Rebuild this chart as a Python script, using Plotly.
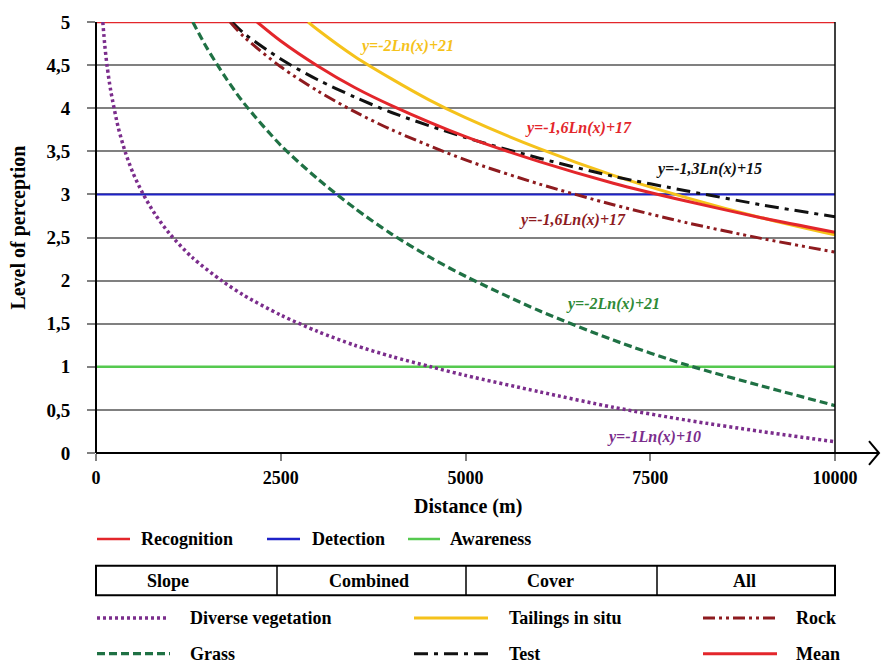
import plotly.graph_objects as go

# ---- data -------------------------------------------------------------
thresholds = {"Recognition": 5, "Detection": 3, "Awareness": 1}
x_span = [0, 10000]

veg_x = [92, 120, 150, 200, 300, 400, 500, 640, 800, 1000, 1300, 1700, 2000,
         2500, 3000, 3500, 4000, 4530, 5000, 6000, 7000, 8000, 9000, 10000]
veg_y = [5.0, 4.72, 4.49, 4.20, 3.78, 3.48, 3.25, 3.0, 2.77, 2.54, 2.27, 2.0,
         1.83, 1.60, 1.41, 1.25, 1.12, 1.0, 0.90, 0.71, 0.53, 0.38, 0.25, 0.13]

grass_x = [1310, 1500, 1750, 2000, 2500, 3000, 3500, 4000, 4500, 5000, 6000,
           7000, 8000, 9000, 10000]
grass_y = [5.0, 4.70, 4.36, 4.06, 3.57, 3.18, 2.84, 2.54, 2.28, 2.05, 1.65,
           1.31, 1.02, 0.78, 0.55]

tail_x = [2870, 3000, 3500, 4000, 4500, 5000, 6000, 7000, 8000, 9000, 10000]
tail_y = [5.0, 4.91, 4.60, 4.34, 4.10, 3.89, 3.53, 3.22, 2.96, 2.73, 2.53]

test_x = [1840, 2000, 2500, 3000, 3500, 4000, 5000, 6000, 7000, 8000, 9000, 10000]
test_y = [5.0, 4.87, 4.57, 4.33, 4.13, 3.95, 3.66, 3.42, 3.21, 3.04, 2.88, 2.74]

rock_x = [1815, 2000, 2500, 3000, 3500, 4000, 5000, 6000, 7000, 8000, 9000, 10000]
rock_y = [5.0, 4.83, 4.48, 4.20, 3.96, 3.75, 3.40, 3.12, 2.88, 2.67, 2.49, 2.33]

mean_x = [2180, 2500, 3000, 3500, 4000, 5000, 6000, 7000, 8000, 9000, 10000]
mean_y = [5.0, 4.78, 4.49, 4.24, 4.03, 3.67, 3.38, 3.13, 2.92, 2.73, 2.56]

y_ticks = [0, 0.5, 1, 1.5, 2, 2.5, 3, 3.5, 4, 4.5, 5]
y_tick_text = ["0", "0,5", "1", "1,5", "2", "2,5", "3", "3,5", "4", "4,5", "5"]
x_ticks = [0, 2500, 5000, 7500, 10000]
x_tick_text = ["0", "2500", "5000", "7500", "10000"]

groups = ["Slope", "Combined", "Cover", "All"]

# ---- styles -------------------------------------------------------------
FONT = "Liberation Serif"
RED = "#e3262b"
BLUE = "#1e22c8"
LGREEN = "#55c94f"
PURPLE = "#7b2d8c"
DGREEN = "#1f7144"
YELLOW = "#f5c21b"
BLACK = "#111111"
DRED = "#8e1b1f"
GRID = "#808080"

DOT = "3px,3px"
DASH = "8px,4px"
DASHDOT = "14px,6px,4px,6px"
DASHDOTDOT = "12px,4px,3px,4px,3px,4px"

W, H = 881, 666
L, R, T, B = 96, 835, 17, 453  # plot-area pixel box


def px(xpix):
    return (xpix - L) / (R - L)


def py(ypix):
    return (B - ypix) / (B - T)


fig = go.Figure()

# threshold levels
for name, color, w in [("Recognition", RED, 2.5), ("Detection", BLUE, 2),
                       ("Awareness", LGREEN, 2.5)]:
    lv = thresholds[name]
    fig.add_trace(go.Scatter(x=x_span, y=[lv, lv], mode="lines",
                             line=dict(color=color, width=w), name=name,
                             hoverinfo="skip"))

series = [
    ("Diverse vegetation", veg_x, veg_y, PURPLE, DOT, 3.5),
    ("Grass", grass_x, grass_y, DGREEN, DASH, 3.2),
    ("Tailings in situ", tail_x, tail_y, YELLOW, "solid", 3),
    ("Test", test_x, test_y, BLACK, DASHDOT, 3),
    ("Rock", rock_x, rock_y, DRED, DASHDOTDOT, 3),
    ("Mean", mean_x, mean_y, RED, "solid", 3),
]
for name, xs, ys, color, dash, w in series:
    fig.add_trace(go.Scatter(x=xs, y=ys, mode="lines", name=name,
                             line=dict(color=color, width=w, dash=dash,
                                       shape="spline", smoothing=0.8)))

# fitted-equation labels
eqs = [
    ("y=-2Ln(x)+21", 4210, 4.72, YELLOW),
    ("y=-1,6Ln(x)+17", 6530, 3.77, RED),
    ("y=-1,3Ln(x)+15", 8290, 3.29, BLACK),
    ("y=-1,6Ln(x)+17", 6450, 2.70, DRED),
    ("y=-2Ln(x)+21", 6990, 1.73, "#2f8a36"),
    ("y=-1Ln(x)+10", 7550, 0.19, PURPLE),
]
for txt, ex, ey, col in eqs:
    fig.add_annotation(x=ex, y=ey, text=f"<b><i>{txt}</i></b>", showarrow=False,
                       xanchor="center", yanchor="middle",
                       font=dict(family=FONT, size=16, color=col))

shapes = []
# axes frame
shapes.append(dict(type="line", xref="paper", yref="paper", x0=0, x1=0,
                   y0=0, y1=1, line=dict(color="black", width=2)))
shapes.append(dict(type="line", xref="paper", yref="paper", x0=1, x1=1,
                   y0=0, y1=1, line=dict(color="black", width=1.5)))
shapes.append(dict(type="line", xref="paper", yref="paper", x0=0, x1=px(879),
                   y0=0, y1=0, line=dict(color="black", width=2)))
shapes.append(dict(type="path", xref="paper", yref="paper",
                   path=f"M {px(869)},{py(441)} L {px(879)},{py(453)} L {px(869)},{py(465)}",
                   line=dict(color="black", width=2)))

# legend row 1
legend_row1 = [("Recognition", RED, 97, 130, 139),
               ("Detection", BLUE, 267, 300, 310),
               ("Awareness", LGREEN, 408, 440, 448)]
for txt, col, a, b, t in legend_row1:
    shapes.append(dict(type="line", xref="paper", yref="paper", x0=px(a), x1=px(b),
                       y0=py(540), y1=py(540), line=dict(color=col, width=2.5)))
    fig.add_annotation(xref="paper", yref="paper", x=px(t), y=py(540), text=txt,
                       showarrow=False, xanchor="left", yanchor="middle",
                       font=dict(family=FONT, size=18, color="black", weight="bold"))

# group table
tab_top, tab_bot = 567, 597
shapes.append(dict(type="rect", xref="paper", yref="paper", x0=px(96), x1=px(835),
                   y0=py(tab_bot), y1=py(tab_top), line=dict(color="black", width=2)))
for d in [277, 466, 657]:
    shapes.append(dict(type="line", xref="paper", yref="paper", x0=px(d), x1=px(d),
                       y0=py(tab_bot), y1=py(tab_top), line=dict(color="black", width=1.5)))
for g, cx in zip(groups, [168, 369, 550, 744]):
    fig.add_annotation(xref="paper", yref="paper", x=px(cx), y=py(582), text=g,
                       showarrow=False, xanchor="center", yanchor="middle",
                       font=dict(family=FONT, size=18, color="black", weight="bold"))

# series legend rows
legend_rows = [
    ("Diverse vegetation", PURPLE, DOT, 3.5, 97, 168, 188, 620),
    ("Tailings in situ", YELLOW, "solid", 3, 414, 488, 507, 620),
    ("Rock", DRED, DASHDOTDOT, 3, 703, 775, 794, 620),
    ("Grass", DGREEN, DASH, 3.2, 97, 170, 188, 656),
    ("Test", BLACK, DASHDOT, 3, 414, 488, 507, 656),
    ("Mean", RED, "solid", 3, 703, 777, 794, 656),
]
for txt, col, dash, w, a, b, t, yy in legend_rows:
    shapes.append(dict(type="line", xref="paper", yref="paper", x0=px(a), x1=px(b),
                       y0=py(yy), y1=py(yy), line=dict(color=col, width=w, dash=dash)))
    fig.add_annotation(xref="paper", yref="paper", x=px(t), y=py(yy), text=txt,
                       showarrow=False, xanchor="left", yanchor="middle",
                       font=dict(family=FONT, size=18, color="black", weight="bold"))

# axis titles
fig.add_annotation(xref="paper", yref="paper", x=px(468), y=py(507),
                   text="Distance (m)", showarrow=False,
                   xanchor="center", yanchor="middle",
                   font=dict(family=FONT, size=20, color="black", weight="bold"))
fig.add_annotation(xref="paper", yref="paper", x=px(19), y=py(225),
                   text="Level of perception", showarrow=False, textangle=-90,
                   xanchor="center", yanchor="middle",
                   font=dict(family=FONT, size=20, color="black", weight="bold"))

fig.update_layout(
    width=W, height=H,
    margin=dict(l=L, r=W - R, t=T, b=H - B),
    paper_bgcolor="white", plot_bgcolor="white",
    showlegend=False,
    shapes=shapes,
    font=dict(family=FONT, color="black"),
    xaxis=dict(range=x_span, tickvals=x_ticks, ticktext=x_tick_text,
               showgrid=False, zeroline=False, showline=False,
               ticks="outside", ticklen=7, tickcolor=GRID, tickwidth=1.5,
               ticklabelstandoff=1,
               tickfont=dict(family=FONT, size=18, color="black", weight="bold")),
    yaxis=dict(range=[0, 5], tickvals=y_ticks, ticktext=y_tick_text,
               showgrid=True, gridcolor=GRID, gridwidth=1.5,
               zeroline=False, showline=False,
               ticks="outside", ticklen=8, tickcolor=GRID, tickwidth=1.5,
               ticklabelstandoff=13,
               tickfont=dict(family=FONT, size=19, color="black", weight="bold")),
)

fig.write_html("out.html")
